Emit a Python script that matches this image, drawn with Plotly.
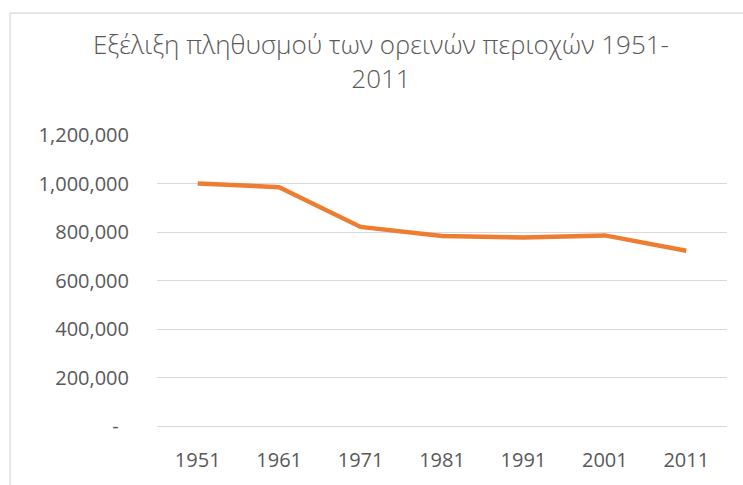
import plotly.graph_objects as go

years = ["1951", "1961", "1971", "1981", "1991", "2001", "2011"]
population = [1000000, 985000, 821000, 784000, 777000, 786000, 723000]
y_ticks = [0, 200000, 400000, 600000, 800000, 1000000, 1200000]
y_tick_labels = ["-\u00a0\u00a0", "200,000", "400,000", "600,000", "800,000", "1,000,000", "1,200,000"]

title_text = "Εξέλιξη πληθυσμού των ορεινών περιοχών 1951-<br>2011"

fig = go.Figure()
fig.add_trace(go.Scatter(
    x=years, y=population, mode="lines",
    line=dict(color="#ED7D31", width=4.5),
    hoverinfo="skip",
))

font_family = "Open Sans, Noto Sans, sans-serif"

fig.update_layout(
    width=743, height=485,
    margin=dict(l=157, r=16, t=135, b=54),
    paper_bgcolor="white", plot_bgcolor="white",
    showlegend=False,
    title=dict(
        text=title_text,
        x=381 / 743, xanchor="center",
        y=1 - 54 / 485, yanchor="top",
        font=dict(family=font_family, size=26, color="#595959", weight=300),
    ),
    xaxis=dict(
        type="category",
        range=[-0.5, 6.5],
        showgrid=False,
        showline=True, linecolor="#D9D9D9", linewidth=1,
        ticks="", ticklabelstandoff=16,
        tickfont=dict(family=font_family, size=20, color="#595959"),
        fixedrange=True,
    ),
    yaxis=dict(
        range=[0, 1200000],
        tickvals=y_ticks, ticktext=y_tick_labels,
        showgrid=True, gridcolor="#D9D9D9", gridwidth=1,
        zeroline=False, showline=False,
        ticks="", ticklabelstandoff=27,
        tickfont=dict(family=font_family, size=20, color="#595959"),
        fixedrange=True,
    ),
    shapes=[dict(
        type="rect", xref="paper", yref="paper",
        x0=(10 - 157) / 570, x1=1.2,
        y0=-0.5, y1=(431 - 11) / 296,
        line=dict(color="#D9D9D9", width=1.2),
        fillcolor="rgba(0,0,0,0)", layer="below",
    )],
)

fig.write_html(
    "out.html",
    config={"displayModeBar": False},
    post_script="document.body.style.margin='0';document.body.style.overflow='hidden';",
)
